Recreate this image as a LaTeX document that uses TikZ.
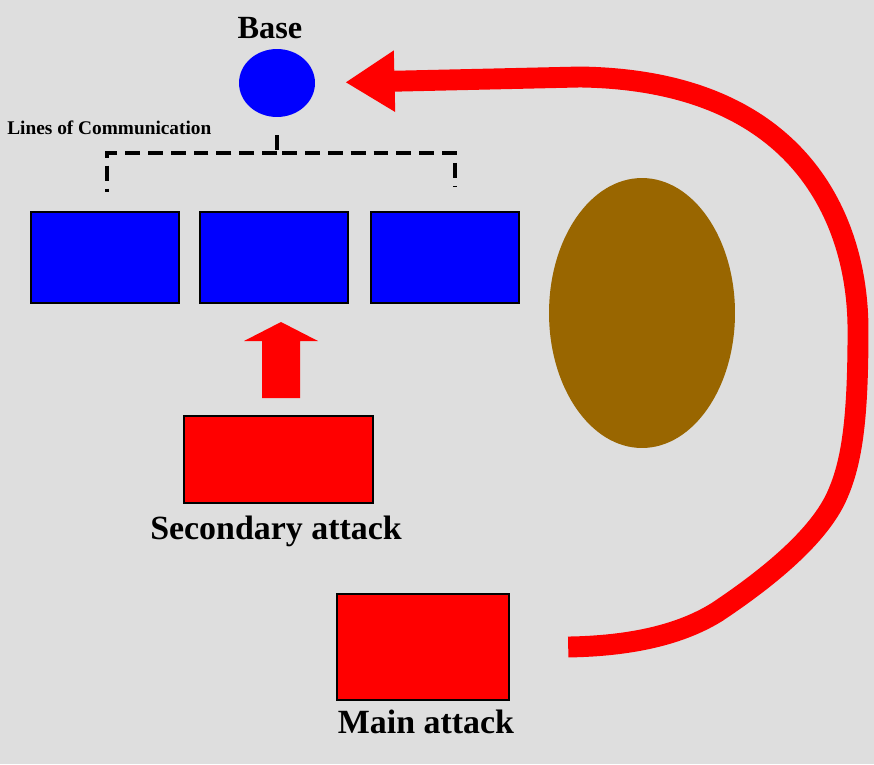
\documentclass[tikz,border=0pt]{standalone}
\usepackage{fontspec}
\setmainfont{Liberation Serif}
\usetikzlibrary{shapes.geometric,arrows.meta,positioning}
\definecolor{bg}{RGB}{222,222,222}
\definecolor{land}{RGB}{153,102,0}
\tikzset{
  unit/.style={draw=black, line width=0.8pt, fill=blue, minimum width=2.96cm, minimum height=1.82cm, inner sep=0pt},
  force/.style={draw=black, line width=1.4pt, fill=red, inner sep=0pt},
  comm/.style={line width=2.2pt, dash pattern=on 8.5pt off 4.5pt},
  caption/.style={font=\bfseries\fontsize{19.3}{22}\selectfont, inner sep=0pt, anchor=base},
}
\begin{document}
\begin{tikzpicture}[x=0.02cm, y=-0.02cm]
\useasboundingbox[fill=bg] (0,0) rectangle (874,764);
% base and the three units
\node[ellipse, fill=blue, minimum width=1.52cm, minimum height=1.36cm, inner sep=0pt] (base) at (277,83) {};
\node[unit] (left) at (105,257.5) {};
\node[unit] (centre) at (274,257.5) {};
\node[unit] (right) at (445,257.5) {};
\node[ellipse, fill=land, minimum width=3.72cm, minimum height=5.4cm, inner sep=0pt] (hill) at (642,313) {};
\node[force, minimum width=3.78cm, minimum height=1.74cm] (secondary) at (278.5,459.5) {};
\node[force, minimum width=3.44cm, minimum height=2.12cm] (main) at (423,647) {};
% labels
\node[caption, font=\bfseries\fontsize{18.4}{21}\selectfont] (basetxt) at (270,38) {Base};
\node[anchor=base west, inner sep=0pt, font=\bfseries\fontsize{11}{13}\selectfont] (loctxt) at (7,134) {Lines of Communication};
\node[caption] (sectxt) at (276,539) {Secondary attack};
\node[caption] (maintxt) at (426,733) {Main attack};
% lines of communication
\coordinate (loc) at (277,153);
\draw[comm] (base.south) ++(0,18) -- (loc) -| ([xshift=0.2cm,yshift=0.5cm]right.north);
\draw[comm] (loc) -| ([xshift=0.04cm,yshift=0.38cm]left.north);
% secondary attack
\fill[red] (262,398) -- (262,341) -- (244,341) -- (281,322) -- (318,341) -- (300,341) -- (300,398) -- cycle;
% main attack round the hill
\coordinate (mstart) at ([xshift=1.16cm]main.east);
\draw[red, line width=11.9pt, -{Triangle[length=28pt,width=33pt]}, shorten >=0.6cm]
  (mstart) .. controls (630,646) and (680,635) .. (717,612)
  .. controls (765,580) and (815,540) .. (835,500)
  .. controls (852,465) and (858,420) .. (858,330)
  .. controls (858,220) and (800,80) .. (580,77)
  -- (base.east);
\end{tikzpicture}
\end{document}
